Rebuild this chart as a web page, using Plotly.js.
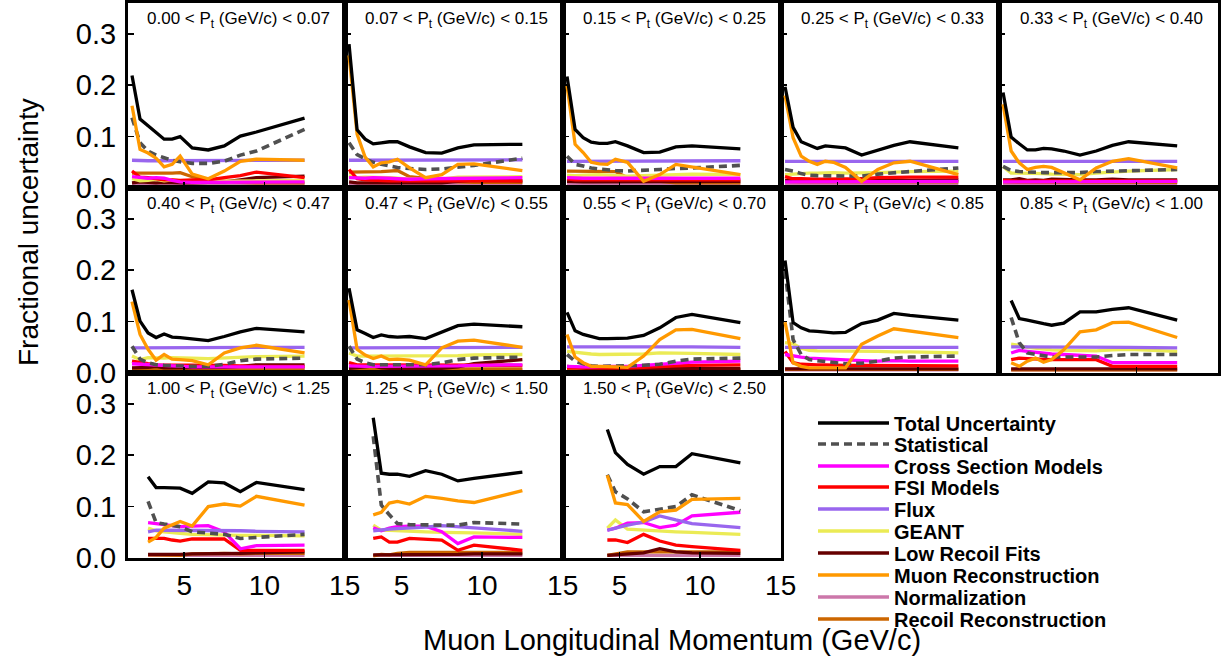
<!DOCTYPE html>
<html>
<head>
<meta charset="utf-8">
<script src="https://cdn.plot.ly/plotly-3.0.1.min.js"></script>
<style>html,body{margin:0;padding:0;background:#fff;}#chart{width:1224px;height:666px;}</style>
</head>
<body>
<div id="chart"></div>
<script>
// Muon longitudinal momentum bin centres (GeV/c)
const X = [1.75, 2.25, 2.75, 3.25, 3.75, 4.25, 4.75, 5.5, 6.5, 7.5, 8.5, 9.5, 12.5];

const ptLabels = [
  "0.00 &lt; P<sub>t</sub> (GeV/c) &lt; 0.07", "0.07 &lt; P<sub>t</sub> (GeV/c) &lt; 0.15",
  "0.15 &lt; P<sub>t</sub> (GeV/c) &lt; 0.25", "0.25 &lt; P<sub>t</sub> (GeV/c) &lt; 0.33",
  "0.33 &lt; P<sub>t</sub> (GeV/c) &lt; 0.40", "0.40 &lt; P<sub>t</sub> (GeV/c) &lt; 0.47",
  "0.47 &lt; P<sub>t</sub> (GeV/c) &lt; 0.55", "0.55 &lt; P<sub>t</sub> (GeV/c) &lt; 0.70",
  "0.70 &lt; P<sub>t</sub> (GeV/c) &lt; 0.85", "0.85 &lt; P<sub>t</sub> (GeV/c) &lt; 1.00",
  "1.00 &lt; P<sub>t</sub> (GeV/c) &lt; 1.25", "1.25 &lt; P<sub>t</sub> (GeV/c) &lt; 1.50",
  "1.50 &lt; P<sub>t</sub> (GeV/c) &lt; 2.50"
];

const yTickVals = [0, 0.1, 0.2, 0.3];
const yTickText = ["0.0", "0.1", "0.2", "0.3"];
const xTickVals = [5, 10, 15];
const xTickText = ["5", "10", "15"];

const total = [
 [0.219,0.134,0.121,0.108,0.095,0.095,0.100,0.078,0.074,0.082,0.101,0.109,0.136],
 [0.280,0.113,0.095,0.086,0.088,0.090,0.090,0.080,0.069,0.068,0.078,0.084,0.085],
 [0.217,0.114,0.098,0.089,0.087,0.087,0.090,0.082,0.069,0.070,0.080,0.082,0.076],
 [0.197,0.118,0.090,0.083,0.077,0.082,0.081,0.078,0.064,0.073,0.083,0.090,0.078],
 [0.186,0.099,0.086,0.074,0.074,0.077,0.076,0.072,0.064,0.072,0.083,0.090,0.082],
 [0.162,0.101,0.078,0.069,0.076,0.070,0.069,0.067,0.063,0.071,0.080,0.087,0.080],
 [0.165,0.084,0.077,0.069,0.074,0.071,0.070,0.071,0.067,0.080,0.092,0.095,0.090],
 [0.118,0.082,0.075,0.071,0.067,0.067,0.067,0.068,0.073,0.088,0.108,0.114,0.098],
 [0.219,0.098,0.088,0.082,0.081,0.080,0.078,0.079,0.096,0.103,0.116,0.112,0.103],
 [null,0.141,0.106,0.103,0.099,0.096,0.093,0.097,0.119,0.119,0.124,0.127,0.103],
 [null,null,0.158,0.137,0.137,0.137,0.136,0.126,0.148,0.146,0.129,0.147,0.133],
 [null,null,null,0.273,0.165,0.163,0.163,0.159,0.170,0.163,0.150,0.155,0.167],
 [null,null,null,null,null,0.250,0.205,0.182,0.163,0.178,0.178,0.203,0.185]
];

const statistical = [
 [0.137,0.088,0.072,0.064,0.059,0.054,0.051,0.048,0.048,0.052,0.064,0.072,0.114],
 [0.088,0.065,0.057,0.050,0.046,0.043,0.040,0.038,0.036,0.037,0.041,0.044,0.058],
 [0.062,0.046,0.043,0.039,0.037,0.035,0.034,0.033,0.034,0.036,0.038,0.039,0.044],
 [0.036,0.033,0.028,0.025,0.024,0.024,0.023,0.023,0.023,0.027,0.029,0.032,0.039],
 [0.042,0.034,0.032,0.031,0.030,0.030,0.030,0.030,0.030,0.032,0.033,0.034,0.036],
 [0.052,0.027,0.020,0.016,0.015,0.014,0.014,0.013,0.013,0.017,0.024,0.027,0.029],
 [0.052,0.027,0.020,0.016,0.016,0.016,0.016,0.016,0.016,0.020,0.026,0.029,0.031],
 [0.036,0.023,0.018,0.014,0.013,0.013,0.013,0.014,0.015,0.017,0.023,0.027,0.029],
 [0.199,0.065,0.036,0.026,0.024,0.022,0.020,0.018,0.019,0.023,0.029,0.031,0.033],
 [null,0.108,0.059,0.039,0.036,0.033,0.031,0.031,0.031,0.031,0.034,0.036,0.036],
 [null,null,0.110,0.069,0.066,0.063,0.061,0.051,0.049,0.046,0.038,0.040,0.046],
 [null,null,null,0.237,0.103,0.084,0.067,0.065,0.064,0.064,0.064,0.069,0.066],
 [null,null,null,null,null,0.162,0.129,0.115,0.090,0.095,0.100,0.123,0.092]
];

const crossSection = [
 [0.022,0.020,0.019,0.020,0.019,0.015,0.012,0.011,0.011,0.012,0.012,0.012,0.012],
 [0.020,0.019,0.019,0.020,0.020,0.019,0.018,0.017,0.018,0.018,0.019,0.019,0.020],
 [0.020,0.019,0.019,0.019,0.019,0.018,0.018,0.018,0.018,0.018,0.019,0.019,0.019],
 [0.012,0.012,0.012,0.012,0.012,0.012,0.012,0.012,0.012,0.012,0.013,0.013,0.013],
 [0.012,0.012,0.012,0.012,0.012,0.012,0.012,0.012,0.012,0.012,0.013,0.013,0.013],
 [0.018,0.017,0.016,0.015,0.014,0.013,0.013,0.012,0.012,0.012,0.012,0.012,0.012],
 [0.014,0.013,0.013,0.013,0.013,0.013,0.013,0.013,0.013,0.013,0.014,0.015,0.016],
 [0.013,0.012,0.012,0.012,0.013,0.013,0.013,0.013,0.015,0.017,0.019,0.021,0.023],
 [0.036,0.033,0.031,0.029,0.028,0.027,0.026,0.025,0.024,0.023,0.024,0.023,0.023],
 [null,0.039,0.044,0.042,0.040,0.038,0.037,0.036,0.034,0.033,0.020,0.020,0.020],
 [null,null,0.069,0.067,0.065,0.063,0.061,0.062,0.063,0.051,0.018,0.024,0.025],
 [null,null,null,0.059,0.053,0.058,0.061,0.062,0.062,0.051,0.028,0.041,0.040],
 [null,null,null,null,null,0.054,0.058,0.068,0.069,0.059,0.064,0.082,0.089]
];

const fsiModels = [
 [0.033,0.021,0.020,0.018,0.016,0.016,0.015,0.016,0.016,0.020,0.024,0.031,0.020],
 [0.036,0.018,0.016,0.015,0.015,0.014,0.014,0.014,0.014,0.013,0.014,0.014,0.014],
 [0.018,0.016,0.016,0.016,0.016,0.016,0.016,0.016,0.016,0.016,0.016,0.016,0.016],
 [0.022,0.018,0.018,0.017,0.017,0.017,0.017,0.018,0.018,0.020,0.021,0.021,0.021],
 [0.015,0.014,0.013,0.014,0.013,0.014,0.014,0.013,0.013,0.014,0.014,0.014,0.014],
 [0.023,0.020,0.018,0.016,0.016,0.015,0.015,0.015,0.015,0.015,0.014,0.013,0.013],
 [0.020,0.016,0.016,0.016,0.016,0.015,0.015,0.015,0.015,0.015,0.015,0.015,0.015],
 [0.010,0.010,0.009,0.009,0.009,0.009,0.010,0.010,0.011,0.013,0.014,0.015,0.016],
 [0.042,0.020,0.017,0.016,0.016,0.016,0.015,0.015,0.015,0.015,0.015,0.015,0.014],
 [null,0.026,0.029,0.028,0.027,0.026,0.026,0.026,0.026,0.026,0.013,0.013,0.013],
 [null,null,0.038,0.038,0.038,0.035,0.033,0.037,0.037,0.037,0.015,0.015,0.015],
 [null,null,null,0.038,0.041,0.031,0.031,0.038,0.037,0.035,0.015,0.025,0.015],
 [null,null,null,null,null,0.035,0.035,0.030,0.046,0.033,0.025,0.022,0.015]
];

const flux = [
 [0.054,0.053,0.053,0.053,0.053,0.053,0.053,0.053,0.053,0.053,0.054,0.054,0.054],
 [0.054,0.054,0.054,0.054,0.054,0.054,0.054,0.054,0.054,0.054,0.055,0.055,0.055],
 [0.052,0.052,0.052,0.052,0.052,0.052,0.052,0.052,0.052,0.053,0.053,0.053,0.053],
 [0.052,0.052,0.052,0.052,0.052,0.052,0.052,0.052,0.052,0.052,0.052,0.052,0.052],
 [0.052,0.052,0.052,0.052,0.052,0.052,0.052,0.052,0.052,0.052,0.052,0.052,0.052],
 [0.049,0.049,0.049,0.049,0.049,0.049,0.049,0.049,0.049,0.049,0.049,0.050,0.050],
 [0.049,0.049,0.049,0.049,0.049,0.049,0.049,0.049,0.049,0.050,0.050,0.050,0.050],
 [0.051,0.051,0.051,0.051,0.051,0.051,0.051,0.051,0.051,0.051,0.052,0.051,0.050],
 [0.050,0.050,0.050,0.050,0.050,0.050,0.050,0.050,0.050,0.051,0.051,0.051,0.050],
 [null,0.051,0.051,0.051,0.050,0.050,0.050,0.050,0.050,0.050,0.051,0.050,0.049],
 [null,null,0.051,0.054,0.054,0.054,0.053,0.053,0.054,0.054,0.053,0.052,0.051],
 [null,null,null,0.053,0.055,0.056,0.057,0.058,0.060,0.063,0.061,0.058,0.052],
 [null,null,null,null,null,0.054,0.058,0.064,0.070,0.082,0.074,0.067,0.059]
];

const geant = [
 [0.018,0.014,0.015,0.017,0.014,0.016,0.014,0.015,0.013,0.013,0.014,0.014,0.015],
 [0.024,0.020,0.021,0.021,0.021,0.020,0.019,0.017,0.017,0.017,0.021,0.021,0.022],
 [0.025,0.024,0.025,0.026,0.026,0.025,0.024,0.023,0.024,0.025,0.026,0.027,0.026],
 [0.026,0.027,0.029,0.029,0.029,0.030,0.030,0.029,0.029,0.030,0.031,0.032,0.033],
 [0.042,0.029,0.029,0.029,0.028,0.028,0.027,0.026,0.026,0.029,0.031,0.033,0.036],
 [0.033,0.026,0.030,0.029,0.029,0.030,0.029,0.029,0.028,0.029,0.031,0.032,0.033],
 [0.039,0.033,0.033,0.033,0.033,0.033,0.033,0.033,0.033,0.034,0.034,0.035,0.036],
 [0.042,0.040,0.038,0.037,0.036,0.036,0.036,0.036,0.037,0.039,0.039,0.038,0.036],
 [0.059,0.057,0.048,0.044,0.043,0.043,0.042,0.042,0.042,0.042,0.041,0.041,0.039],
 [null,0.056,0.054,0.050,0.048,0.046,0.045,0.044,0.044,0.043,0.045,0.046,0.042],
 [null,null,0.058,0.053,0.051,0.049,0.048,0.046,0.045,0.044,0.044,0.044,0.043],
 [null,null,null,0.064,0.054,0.054,0.053,0.052,0.051,0.050,0.050,0.049,0.046],
 [null,null,null,null,null,0.058,0.074,0.056,0.054,0.052,0.051,0.050,0.046]
];

const lowRecoilFits = [
 [0.010,0.012,0.011,0.010,0.011,0.010,0.010,0.010,0.011,0.012,0.016,0.020,0.023],
 [0.012,0.010,0.010,0.010,0.010,0.010,0.010,0.010,0.010,0.010,0.013,0.015,0.014],
 [0.013,0.012,0.012,0.012,0.012,0.012,0.012,0.012,0.012,0.012,0.012,0.013,0.013],
 [0.015,0.014,0.016,0.013,0.016,0.014,0.016,0.016,0.018,0.016,0.016,0.015,0.016],
 [0.016,0.016,0.018,0.015,0.016,0.015,0.017,0.016,0.016,0.016,0.017,0.016,0.016],
 [0.010,0.010,0.011,0.013,0.010,0.010,0.010,0.010,0.010,0.011,0.013,0.016,0.016],
 [0.009,0.010,0.012,0.014,0.010,0.009,0.009,0.009,0.009,0.009,0.012,0.018,0.026],
 [0.013,0.011,0.009,0.008,0.008,0.008,0.008,0.008,0.008,0.008,0.008,0.009,0.009],
 [0.008,0.008,0.008,0.008,0.008,0.008,0.008,0.008,0.008,0.008,0.008,0.008,0.008],
 [null,0.008,0.008,0.008,0.008,0.008,0.008,0.008,0.008,0.008,0.008,0.008,0.008],
 [null,null,0.007,0.007,0.007,0.006,0.007,0.008,0.008,0.008,0.009,0.010,0.012],
 [null,null,null,0.006,0.006,0.006,0.007,0.007,0.007,0.007,0.007,0.008,0.008],
 [null,null,null,null,null,0.005,0.006,0.008,0.010,0.018,0.012,0.010,0.009]
];

const muonReco = [
 [0.160,0.075,0.068,0.058,0.041,0.046,0.062,0.027,0.018,0.033,0.052,0.056,0.054],
 [0.258,0.105,0.060,0.041,0.049,0.051,0.056,0.039,0.020,0.026,0.046,0.047,0.034],
 [0.199,0.085,0.069,0.050,0.047,0.046,0.056,0.050,0.013,0.026,0.046,0.041,0.026],
 [0.180,0.098,0.062,0.052,0.046,0.052,0.050,0.040,0.013,0.036,0.049,0.052,0.026],
 [0.163,0.072,0.049,0.036,0.040,0.042,0.040,0.030,0.016,0.039,0.052,0.057,0.039],
 [0.139,0.075,0.046,0.025,0.036,0.027,0.026,0.024,0.016,0.039,0.049,0.054,0.039],
 [0.142,0.046,0.035,0.028,0.033,0.026,0.027,0.025,0.016,0.049,0.062,0.064,0.050],
 [0.075,0.031,0.020,0.013,0.013,0.013,0.012,0.011,0.033,0.065,0.084,0.085,0.067],
 [0.099,0.020,0.013,0.010,0.010,0.010,0.010,0.010,0.056,0.072,0.086,0.082,0.069],
 [null,0.020,0.013,0.023,0.029,0.021,0.026,0.045,0.080,0.084,0.098,0.099,0.069],
 [null,null,0.031,0.040,0.058,0.065,0.071,0.062,0.100,0.105,0.101,0.120,0.103],
 [null,null,null,0.084,0.089,0.107,0.110,0.105,0.120,0.116,0.111,0.108,0.131],
 [null,null,null,null,null,0.161,0.107,0.104,0.071,0.090,0.093,0.114,0.116]
];

const normalization = [
 [0.008,0.008,0.008,0.008,0.008,0.008,0.008,0.008,0.008,0.008,0.008,0.008,0.008],
 [0.008,0.008,0.008,0.008,0.008,0.008,0.008,0.008,0.008,0.008,0.008,0.008,0.008],
 [0.008,0.008,0.008,0.008,0.008,0.008,0.008,0.008,0.008,0.008,0.008,0.008,0.008],
 [0.007,0.007,0.007,0.007,0.007,0.007,0.007,0.007,0.007,0.007,0.007,0.007,0.007],
 [0.007,0.007,0.007,0.007,0.007,0.007,0.007,0.007,0.007,0.007,0.007,0.007,0.007],
 [0.006,0.006,0.006,0.006,0.006,0.006,0.006,0.006,0.006,0.006,0.006,0.006,0.006],
 [0.006,0.006,0.006,0.006,0.006,0.006,0.006,0.006,0.006,0.006,0.006,0.006,0.006],
 [0.006,0.006,0.006,0.006,0.006,0.006,0.006,0.006,0.006,0.006,0.006,0.006,0.006],
 [0.006,0.006,0.006,0.006,0.006,0.006,0.006,0.006,0.006,0.006,0.006,0.006,0.006],
 [null,0.006,0.006,0.006,0.006,0.006,0.006,0.006,0.006,0.006,0.006,0.006,0.006],
 [null,null,0.005,0.005,0.005,0.005,0.005,0.005,0.005,0.005,0.005,0.005,0.005],
 [null,null,null,0.005,0.005,0.005,0.005,0.005,0.005,0.005,0.005,0.005,0.005],
 [null,null,null,null,null,0.005,0.005,0.005,0.005,0.005,0.005,0.005,0.005]
];

const recoilReco = [
 [0.029,0.029,0.028,0.029,0.029,0.029,0.030,0.022,0.016,0.013,0.011,0.010,0.010],
 [0.031,0.031,0.031,0.031,0.032,0.033,0.034,0.022,0.019,0.015,0.012,0.011,0.011],
 [0.033,0.033,0.033,0.033,0.033,0.033,0.032,0.020,0.016,0.013,0.010,0.010,0.010],
 [0.013,0.012,0.012,0.012,0.012,0.012,0.012,0.012,0.012,0.012,0.012,0.012,0.012],
 [0.012,0.011,0.011,0.011,0.011,0.011,0.011,0.011,0.011,0.011,0.011,0.011,0.011],
 [0.009,0.009,0.009,0.009,0.009,0.009,0.009,0.009,0.009,0.009,0.009,0.009,0.009],
 [0.008,0.008,0.008,0.008,0.008,0.008,0.008,0.008,0.008,0.008,0.008,0.008,0.008],
 [0.007,0.007,0.007,0.007,0.007,0.007,0.007,0.007,0.007,0.007,0.007,0.007,0.007],
 [0.007,0.007,0.007,0.007,0.007,0.007,0.007,0.007,0.007,0.007,0.007,0.007,0.007],
 [null,0.006,0.006,0.006,0.006,0.006,0.006,0.006,0.006,0.006,0.006,0.006,0.006],
 [null,null,0.006,0.006,0.006,0.006,0.005,0.008,0.009,0.009,0.008,0.009,0.009],
 [null,null,null,0.004,0.007,0.006,0.009,0.011,0.011,0.010,0.011,0.011,0.011],
 [null,null,null,null,null,0.005,0.008,0.012,0.012,0.012,0.012,0.012,0.012]
];

// ---------- series styling (drawing order bottom -> top); slot = legend row ----------
const series = [
  {name: "Normalization",         data: normalization, color: "#cc77aa", slot: 8},
  {name: "Recoil Reconstruction", data: recoilReco,    color: "#cc6600", slot: 9},
  {name: "Low Recoil Fits",       data: lowRecoilFits, color: "#660000", slot: 6},
  {name: "GEANT",                 data: geant,         color: "#ebeb55", slot: 5},
  {name: "FSI Models",            data: fsiModels,     color: "#ff0000", slot: 3},
  {name: "Cross Section Models",  data: crossSection,  color: "#ff00ff", slot: 2},
  {name: "Flux",                  data: flux,          color: "#9966ee", slot: 4},
  {name: "Statistical",           data: statistical,   color: "#505050", slot: 1, dash: "8px,5px"},
  {name: "Muon Reconstruction",   data: muonReco,      color: "#ff9900", slot: 7},
  {name: "Total Uncertainty",     data: total,         color: "#000000", slot: 0}
];

const W = 1224, H = 666;
const COLS = [[128,345],[345,563],[563,781],[781,999],[999,1218]];
const ROWS = [[3,188],[188,373],[373,558]];
const LEGEND_ROW_Y = [423, 444, 466, 487, 509, 531, 553, 575, 597, 619];
const FONT = "Liberation Sans, Arial, Helvetica, sans-serif";

const traces = [];
const layout = {
  width: W, height: H,
  margin: {l: 0, r: 0, t: 0, b: 0},
  paper_bgcolor: "#ffffff", plot_bgcolor: "#ffffff",
  font: {family: FONT, color: "#000"},
  showlegend: true,
  annotations: []
};

// one legend box per entry, so the row spacing matches the reference
LEGEND_ROW_Y.forEach((py, i) => {
  const key = i === 0 ? "legend" : "legend" + (i + 1);
  layout[key] = {
    x: 813 / W, y: 1 - py / H, xanchor: "left", yanchor: "middle",
    font: {family: FONT, size: 20, color: "#000", weight: "bold"},
    itemwidth: 71, bgcolor: "rgba(0,0,0,0)", borderwidth: 0
  };
});

for (let p = 0; p < ptLabels.length; p++) {
  const r = Math.floor(p / 5), c = p % 5;
  const sfx = p === 0 ? "" : String(p + 1);
  layout["xaxis" + sfx] = {
    domain: [COLS[c][0] / W, COLS[c][1] / W],
    range: [1.5, 15.02], anchor: "y" + sfx,
    showline: true, mirror: true, linewidth: 3, linecolor: "#000",
    showgrid: false, zeroline: false,
    ticks: "inside", ticklen: 6, tickwidth: 1.5, tickcolor: "#000",
    tickvals: xTickVals, ticktext: xTickText,
    showticklabels: r === 2,
    tickfont: {family: FONT, size: 28, color: "#000"}
  };
  layout["yaxis" + sfx] = {
    domain: [1 - ROWS[r][1] / H, 1 - ROWS[r][0] / H],
    range: [0, 0.36], anchor: "x" + sfx,
    showline: true, mirror: true, linewidth: 3, linecolor: "#000",
    showgrid: false, zeroline: false,
    ticks: "inside", ticklen: 6, tickwidth: 1.5, tickcolor: "#000",
    tickvals: yTickVals, ticktext: yTickText,
    showticklabels: c === 0,
    ticklabelstandoff: 3,
    tickfont: {family: FONT, size: 29, color: "#000"}
  };
  layout.annotations.push({
    text: ptLabels[p], xref: "paper", yref: "paper",
    x: (COLS[c][1] - 13) / W, y: 1 - (ROWS[r][0] + 17) / H,
    xanchor: "right", yanchor: "middle", showarrow: false,
    font: {family: FONT, size: 17, color: "#000"}
  });
  series.forEach(s => {
    traces.push({
      type: "scatter", mode: "lines",
      x: X, y: s.data[p],
      xaxis: "x" + sfx, yaxis: "y" + sfx,
      name: s.name,
      legend: s.slot === 0 ? "legend" : "legend" + (s.slot + 1),
      showlegend: p === 0,
      connectgaps: false,
      line: {color: s.color, width: s.dash ? 3.6 : 3.3, dash: s.dash || "solid"},
      hoverinfo: "skip"
    });
  });
}

layout.annotations.push({
  text: "Fractional uncertainty", xref: "paper", yref: "paper",
  x: 29 / W, y: 1 - 232 / H, textangle: -90, showarrow: false,
  xanchor: "center", yanchor: "middle",
  font: {family: FONT, size: 28, color: "#000"}
});
layout.annotations.push({
  text: "Muon Longitudinal Momentum (GeV/c)", xref: "paper", yref: "paper",
  x: 672 / W, y: 1 - 640 / H, showarrow: false,
  xanchor: "center", yanchor: "middle",
  font: {family: FONT, size: 29, color: "#000"}
});

Plotly.newPlot("chart", traces, layout, {displayModeBar: false, staticPlot: true});
</script>
</body>
</html>
